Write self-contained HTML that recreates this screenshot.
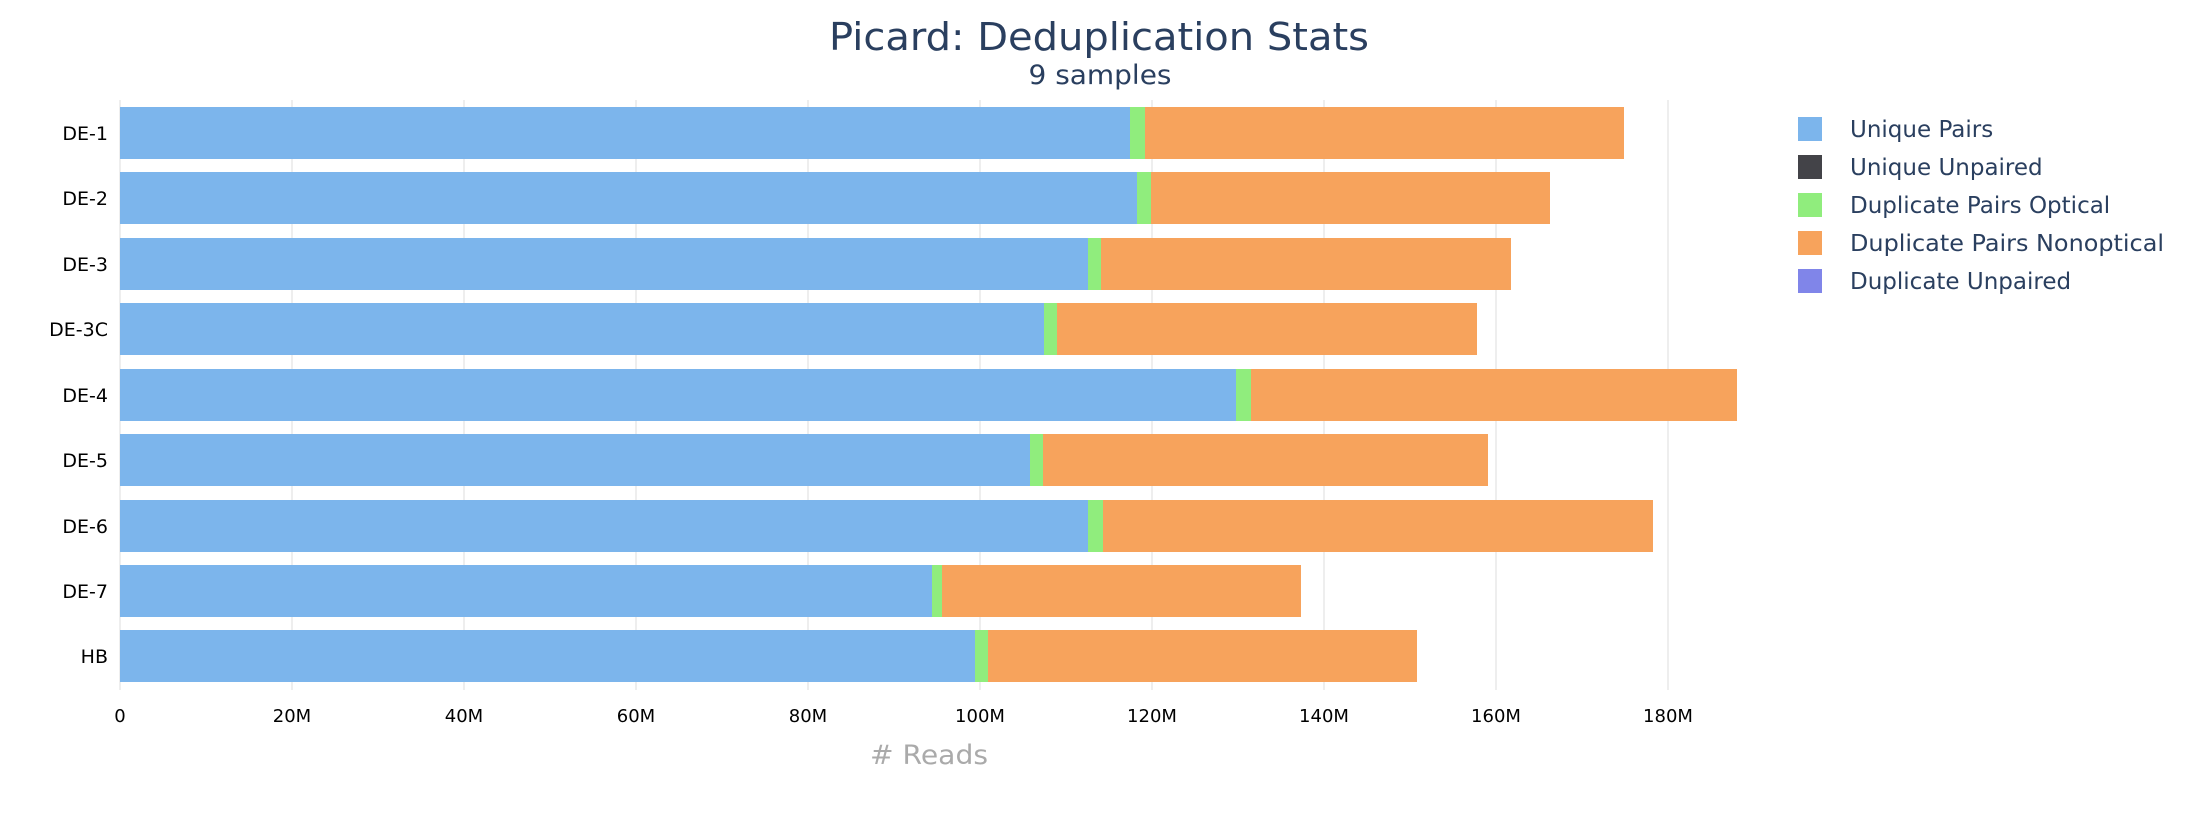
<!DOCTYPE html>
<html><head><meta charset="utf-8"><style>
html,body{margin:0;padding:0;background:#fff;}
svg{display:block;font-family:"DejaVu Sans","Liberation Sans",sans-serif;}
</style></head><body>
<svg width="2200" height="820" viewBox="0 0 2200 820" xmlns="http://www.w3.org/2000/svg">
<rect width="2200" height="820" fill="#fff"/>
<text x="1099" y="50" font-size="38" fill="#2a3f5f" text-anchor="middle" textLength="540" lengthAdjust="spacingAndGlyphs">Picard: Deduplication Stats</text>
<text x="1100" y="84" font-size="27" fill="#2a3f5f" text-anchor="middle" textLength="143" lengthAdjust="spacingAndGlyphs">9 samples</text>
<g stroke="#eeeeee" stroke-width="2">
<line x1="120" y1="100" x2="120" y2="690"/>
<line x1="292" y1="100" x2="292" y2="690"/>
<line x1="464" y1="100" x2="464" y2="690"/>
<line x1="636" y1="100" x2="636" y2="690"/>
<line x1="808" y1="100" x2="808" y2="690"/>
<line x1="980" y1="100" x2="980" y2="690"/>
<line x1="1152" y1="100" x2="1152" y2="690"/>
<line x1="1324" y1="100" x2="1324" y2="690"/>
<line x1="1496" y1="100" x2="1496" y2="690"/>
<line x1="1668" y1="100" x2="1668" y2="690"/>
</g>
<g font-size="18" fill="#000" text-anchor="middle">
<text x="120" y="722">0</text><text x="292" y="722">20M</text><text x="464" y="722">40M</text><text x="636" y="722">60M</text><text x="808" y="722">80M</text><text x="980" y="722">100M</text><text x="1152" y="722">120M</text><text x="1324" y="722">140M</text><text x="1496" y="722">160M</text><text x="1668" y="722">180M</text>
</g>
<text x="929" y="764" font-size="27" fill="#aaaaaa" text-anchor="middle" textLength="118" lengthAdjust="spacingAndGlyphs"># Reads</text>
<g font-size="23" fill="#2a3f5f">
<rect x="1798" y="117" width="24" height="24" fill="#7cb5ec"/><text x="1850" y="137">Unique Pairs</text>
<rect x="1798" y="155" width="24" height="24" fill="#434348"/><text x="1850" y="175">Unique Unpaired</text>
<rect x="1798" y="193" width="24" height="24" fill="#90ed7d"/><text x="1850" y="213">Duplicate Pairs Optical</text>
<rect x="1798" y="231" width="24" height="24" fill="#f7a35c"/><text x="1850" y="251" textLength="314" lengthAdjust="spacingAndGlyphs">Duplicate Pairs Nonoptical</text>
<rect x="1798" y="269" width="24" height="24" fill="#8085e9"/><text x="1850" y="289">Duplicate Unpaired</text>
</g>
<g font-size="19" fill="#000" text-anchor="end">
<rect x="120" y="107" width="1010" height="52" fill="#7cb5ec"/><rect x="1130" y="107" width="15" height="52" fill="#90ed7d"/><rect x="1145" y="107" width="479" height="52" fill="#f7a35c"/><text x="108" y="140">DE-1</text>
<rect x="120" y="172" width="1017" height="52" fill="#7cb5ec"/><rect x="1137" y="172" width="14" height="52" fill="#90ed7d"/><rect x="1151" y="172" width="399" height="52" fill="#f7a35c"/><text x="108" y="205">DE-2</text>
<rect x="120" y="238" width="968" height="52" fill="#7cb5ec"/><rect x="1088" y="238" width="13" height="52" fill="#90ed7d"/><rect x="1101" y="238" width="410" height="52" fill="#f7a35c"/><text x="108" y="271">DE-3</text>
<rect x="120" y="303" width="924" height="52" fill="#7cb5ec"/><rect x="1044" y="303" width="13" height="52" fill="#90ed7d"/><rect x="1057" y="303" width="420" height="52" fill="#f7a35c"/><text x="108" y="336">DE-3C</text>
<rect x="120" y="369" width="1116" height="52" fill="#7cb5ec"/><rect x="1236" y="369" width="15" height="52" fill="#90ed7d"/><rect x="1251" y="369" width="486" height="52" fill="#f7a35c"/><text x="108" y="402">DE-4</text>
<rect x="120" y="434" width="910" height="52" fill="#7cb5ec"/><rect x="1030" y="434" width="13" height="52" fill="#90ed7d"/><rect x="1043" y="434" width="445" height="52" fill="#f7a35c"/><text x="108" y="467">DE-5</text>
<rect x="120" y="500" width="968" height="52" fill="#7cb5ec"/><rect x="1088" y="500" width="15" height="52" fill="#90ed7d"/><rect x="1103" y="500" width="550" height="52" fill="#f7a35c"/><text x="108" y="533">DE-6</text>
<rect x="120" y="565" width="812" height="52" fill="#7cb5ec"/><rect x="932" y="565" width="10" height="52" fill="#90ed7d"/><rect x="942" y="565" width="359" height="52" fill="#f7a35c"/><text x="108" y="598">DE-7</text>
<rect x="120" y="630" width="855" height="52" fill="#7cb5ec"/><rect x="975" y="630" width="13" height="52" fill="#90ed7d"/><rect x="988" y="630" width="429" height="52" fill="#f7a35c"/><text x="108" y="663">HB</text>
</g>
</svg>
</body></html>
